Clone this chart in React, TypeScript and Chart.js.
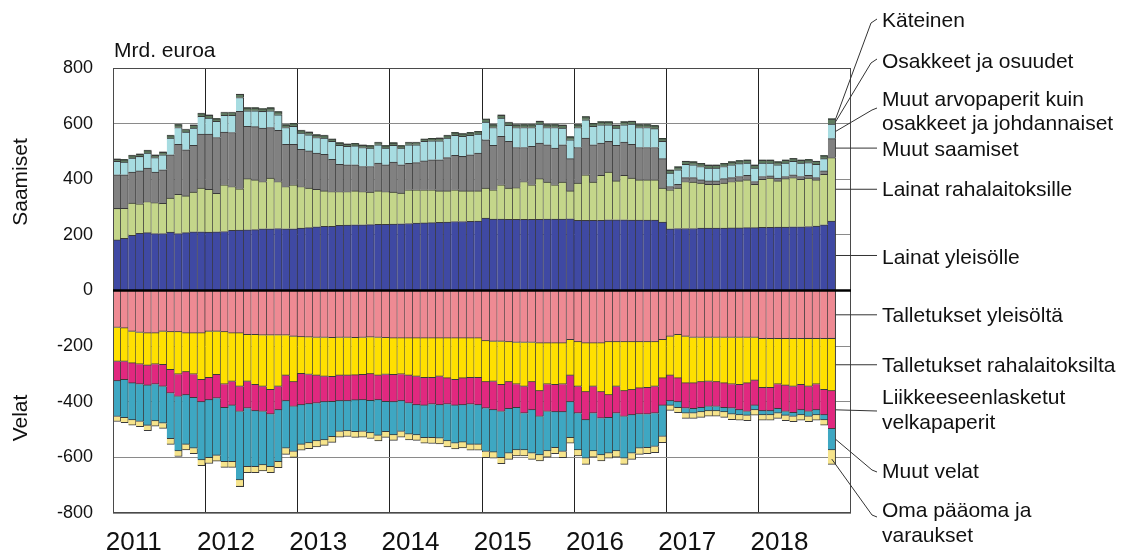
import React, { useEffect, useRef } from 'react';
import { Chart, registerables } from 'chart.js';

Chart.register(...registerables);

// ---------- categories ----------
const YEARS = ['2011', '2012', '2013', '2014', '2015', '2016', '2017', '2018'];
const MONTHS = ['01', '02', '03', '04', '05', '06', '07', '08', '09', '10', '11', '12'];
const CATEGORIES = YEARS.flatMap((y) => MONTHS.map((m) => `${y}-${m}`)); // 96 slots, data Jan 2011 – Oct 2018

// ---------- assets (Saamiset), bn EUR ----------
const lainatYleisolle = [
  182, 188, 198, 206, 208, 205, 205, 210, 205, 208, 211, 211,
  210, 211, 212, 216, 217, 218, 219, 222, 222, 223, 222, 222,
  224, 226, 229, 231, 231, 234, 235, 236, 236, 237, 238, 238,
  239, 240, 241, 242, 243, 244, 245, 246, 248, 248, 249, 250,
  260, 257, 257, 256, 256, 256, 256, 256, 257, 257, 257, 258,
  252, 252, 252, 252, 254, 254, 254, 253, 253, 253, 253, 246,
  222, 223, 223, 223, 224, 224, 224, 224, 225, 225, 226, 226,
  227, 227, 228, 228, 229, 229, 230, 232, 236, 250,
];
const lainatRahalaitoksille = [
  113, 107, 116, 106, 112, 111, 108, 122, 141, 132, 143, 157,
  154, 138, 168, 158, 149, 184, 179, 170, 182, 169, 152, 158,
  150, 142, 135, 127, 125, 122, 121, 122, 120, 117, 120, 118,
  115, 110, 121, 120, 119, 118, 113, 112, 114, 110, 109, 108,
  108, 105, 123, 112, 114, 136, 124, 146, 133, 123, 133, 100,
  134, 164, 138, 162, 172, 140, 160, 151, 145, 145, 145, 122,
  140, 145, 169, 167, 162, 158, 158, 162, 167, 169, 172, 156,
  173, 177, 166, 174, 177, 171, 174, 166, 182, 228,
];
const muutSaamiset = [
  121, 121, 112, 118, 120, 110, 121, 156, 180, 166, 168, 194,
  198, 201, 190, 194, 278, 188, 191, 192, 182, 184, 152, 146,
  134, 134, 130, 132, 116, 98, 96, 94, 90, 92, 100, 96,
  108, 102, 95, 98, 104, 108, 112, 120, 124, 124, 130, 136,
  174, 160, 174, 168, 144, 122, 138, 128, 134, 132, 134, 116,
  128, 132, 134, 116, 110, 128, 120, 122, 116, 116, 116, 106,
  12, 14, 14, 16, 12, 12, 12, 16, 14, 16, 16, 10,
  10, 8, 10, 8, 10, 10, 10, 8, 12, 68,
];
const muutArvopaperit = [
  48, 46, 50, 52, 54, 52, 54, 60, 60, 64, 62, 64,
  58, 58, 60, 62, 50, 56, 57, 60, 60, 56, 60, 64,
  58, 58, 56, 58, 64, 68, 66, 68, 68, 66, 66, 60,
  60, 60, 67, 64, 70, 68, 68, 70, 72, 72, 70, 68,
  64, 64, 66, 58, 72, 72, 68, 68, 62, 74, 60, 68,
  72, 66, 66, 66, 60, 62, 62, 72, 72, 72, 68, 62,
  48, 52, 48, 46, 48, 46, 46, 44, 46, 46, 44, 48,
  48, 46, 48, 48, 48, 48, 46, 48, 44, 52,
];
const osakkeetJaOsuudet = [
  8, 8, 9, 8, 9, 8, 9, 9, 10, 9, 10, 10,
  10, 9, 10, 10, 11, 10, 10, 9, 10, 10, 9, 10,
  9, 9, 9, 9, 8, 8, 8, 8, 8, 8, 8, 8,
  8, 8, 8, 8, 8, 8, 9, 9, 9, 9, 9, 9,
  10, 10, 10, 10, 9, 10, 10, 10, 10, 10, 10, 10,
  10, 10, 10, 10, 10, 10, 10, 10, 10, 10, 10, 10,
  10, 10, 10, 10, 10, 10, 10, 10, 10, 10, 10, 10,
  10, 10, 10, 10, 10, 10, 10, 10, 10, 18,
];
const kateinen = [
  1.5, 1.5, 1.5, 1.5, 1.5, 1.5, 1.5, 1.5, 1.5, 1.5, 1.5, 1.5,
  1.5, 1.5, 1.5, 1.5, 1.5, 1.5, 1.5, 1.5, 1.5, 1.5, 1.5, 1.5,
  1.5, 1.5, 1.5, 1.5, 1.5, 1.5, 1.5, 1.5, 1.5, 1.5, 1.5, 1.5,
  1.5, 1.5, 1.5, 1.5, 1.5, 1.5, 1.5, 1.5, 1.5, 1.5, 1.5, 1.5,
  1.5, 1.5, 1.5, 1.5, 1.5, 1.5, 1.5, 1.5, 1.5, 1.5, 1.5, 1.5,
  1.5, 1.5, 1.5, 1.5, 1.5, 1.5, 1.5, 1.5, 1.5, 1.5, 1.5, 1.5,
  1.5, 1.5, 1.5, 1.5, 1.5, 1.5, 1.5, 1.5, 1.5, 1.5, 1.5, 1.5,
  1.5, 1.5, 1.5, 1.5, 1.5, 1.5, 1.5, 1.5, 1.5, 2,
];

// ---------- liabilities (Velat), bn EUR ----------
const talletuksetYleisolta = [
  -133, -135, -147, -151, -153, -153, -147, -149, -149, -153, -153, -153,
  -147, -147, -149, -153, -153, -159, -159, -161, -161, -161, -161, -165,
  -167, -168, -169, -169, -170, -169, -169, -170, -169, -168, -169, -170,
  -171, -171, -171, -171, -171, -171, -171, -171, -171, -171, -171, -171,
  -181, -183, -183, -185, -187, -187, -187, -189, -189, -189, -189, -177,
  -185, -189, -189, -189, -185, -185, -185, -185, -185, -185, -185, -177,
  -165, -159, -165, -169, -169, -169, -169, -169, -169, -169, -169, -169,
  -173, -173, -173, -173, -173, -173, -173, -173, -173, -173,
];
const talletuksetRahalaitoksilta = [
  -122, -120, -114, -114, -116, -112, -120, -136, -152, -140, -148, -168,
  -166, -156, -188, -174, -192, -168, -180, -184, -196, -184, -144, -164,
  -132, -134, -136, -140, -140, -136, -136, -134, -134, -132, -136, -132,
  -132, -130, -134, -138, -142, -142, -138, -144, -150, -144, -142, -142,
  -148, -144, -156, -144, -150, -158, -142, -172, -148, -150, -148, -128,
  -160, -176, -156, -176, -190, -160, -176, -172, -166, -164, -160, -138,
  -140, -156, -168, -164, -160, -158, -160, -164, -168, -170, -164, -154,
  -176, -176, -164, -168, -172, -166, -172, -164, -184, -188,
];
const liikkeeseenlasketut = [
  -70, -66, -72, -72, -72, -72, -78, -84, -80, -82, -84, -80,
  -80, -84, -84, -86, -90, -96, -94, -90, -88, -84, -92, -88,
  -112, -106, -100, -92, -90, -92, -92, -90, -90, -96, -88, -98,
  -98, -96, -100, -102, -100, -96, -102, -94, -92, -96, -96, -98,
  -94, -102, -96, -96, -84, -96, -100, -92, -98, -98, -100, -96,
  -96, -100, -96, -94, -82, -96, -92, -90, -94, -96, -96, -98,
  -92, -86, -90, -92, -92, -90, -88, -88, -86, -90, -102, -90,
  -84, -84, -88, -94, -94, -90, -90, -92, -90, -136,
];
const muutVelat = [
  -128, -136, -132, -134, -144, -132, -132, -164, -196, -178, -182, -208,
  -208, -206, -194, -202, -246, -210, -200, -192, -188, -186, -170, -162,
  -142, -140, -136, -136, -126, -110, -108, -114, -114, -116, -128, -108,
  -118, -110, -112, -108, -116, -120, -120, -132, -136, -134, -144, -142,
  -156, -152, -166, -160, -152, -132, -156, -138, -142, -128, -142, -128,
  -132, -138, -136, -132, -128, -136, -150, -138, -122, -120, -120, -112,
  -16, -20, -18, -16, -16, -16, -16, -16, -22, -18, -14, -16,
  -14, -14, -16, -14, -14, -18, -18, -18, -18, -76,
];
const omaPaaoma = [
  -18, -18, -19, -19, -19, -19, -19, -20, -20, -20, -20, -21,
  -21, -21, -21, -21, -24, -22, -22, -22, -22, -22, -22, -21,
  -21, -21, -21, -20, -20, -20, -20, -20, -20, -20, -20, -20,
  -20, -20, -20, -20, -20, -21, -21, -21, -21, -21, -21, -21,
  -22, -22, -22, -22, -22, -22, -22, -22, -22, -22, -22, -20,
  -22, -22, -22, -22, -18, -22, -22, -22, -22, -22, -22, -22,
  -18, -18, -19, -19, -19, -19, -19, -19, -19, -19, -19, -19,
  -19, -19, -19, -19, -19, -19, -19, -19, -19, -52,
];

const Y_TICKS_MIN = -800;
const Y_TICKS_MAX = 800;
const Y_STEP = 200;

const FONT = '"Liberation Sans", Arial, sans-serif';
const BORDER = '#3a3a3a';

const SERIES = [
  { label: 'Lainat yleisölle', data: lainatYleisolle, color: '#3F49A3' },
  { label: 'Lainat rahalaitoksille', data: lainatRahalaitoksille, color: '#C4D68A' },
  { label: 'Muut saamiset', data: muutSaamiset, color: '#818181' },
  { label: 'Muut arvopaperit kuin osakkeet ja johdannaiset', data: muutArvopaperit, color: '#A7DCE1' },
  { label: 'Osakkeet ja osuudet', data: osakkeetJaOsuudet, color: '#5E7B60' },
  { label: 'Käteinen', data: kateinen, color: '#22402A' },
  { label: 'Talletukset yleisöltä', data: talletuksetYleisolta, color: '#EE8A93' },
  { label: 'Talletukset rahalaitoksilta', data: talletuksetRahalaitoksilta, color: '#FFE000' },
  { label: 'Liikkeeseenlasketut velkapaperit', data: liikkeeseenlasketut, color: '#E1287F' },
  { label: 'Muut velat', data: muutVelat, color: '#3EA7C2' },
  { label: 'Oma pääoma ja varaukset', data: omaPaaoma, color: '#F6E48C' },
];

// leader-line annotation layout (label positions in px)
type Leader = {
  ds: number;
  lines: string[];
  ty: number[];
  bend?: [number, number];
  end?: [number, number];
  fromCenter?: boolean;
};
const LEADERS: Leader[] = [
  { ds: 5, lines: ['Käteinen'], ty: [21], bend: [871, 23], end: [877, 19] },
  { ds: 4, lines: ['Osakkeet ja osuudet'], ty: [62], bend: [871, 63], end: [877, 59] },
  { ds: 3, lines: ['Muut arvopaperit kuin', 'osakkeet ja johdannaiset'], ty: [100, 124], bend: [872, 110], end: [877, 108] },
  { ds: 2, lines: ['Muut saamiset'], ty: [150] },
  { ds: 1, lines: ['Lainat rahalaitoksille'], ty: [190] },
  { ds: 0, lines: ['Lainat yleisölle'], ty: [258] },
  { ds: 6, lines: ['Talletukset yleisöltä'], ty: [316] },
  { ds: 7, lines: ['Talletukset rahalaitoksilta'], ty: [366] },
  { ds: 8, lines: ['Liikkeeseenlasketut', 'velkapaperit'], ty: [398, 423], end: [877, 411] },
  { ds: 9, lines: ['Muut velat'], ty: [472], bend: [872, 470], end: [877, 472] },
  { ds: 10, lines: ['Oma pääoma ja', 'varaukset'], ty: [511, 536], bend: [872, 515], end: [877, 517], fromCenter: true },
];

const annotatePlugin = {
  id: 'annotate',
  afterDatasetsDraw(chart: any) {
    const { ctx, chartArea: a, scales } = chart;
    const y0 = scales.y.getPixelForValue(0);
    ctx.save();
    ctx.strokeStyle = '#4a4a4a';
    ctx.lineWidth = 1;
    ctx.strokeRect(a.left + 0.5, a.top + 0.5, a.right - a.left - 1, a.bottom - a.top - 1);
    ctx.strokeStyle = '#000';
    ctx.lineWidth = 2.5;
    ctx.beginPath();
    ctx.moveTo(a.left, y0);
    ctx.lineTo(a.right, y0);
    ctx.stroke();
    ctx.restore();
  },
  afterDraw(chart: any) {
    const { ctx } = chart;
    ctx.save();
    ctx.fillStyle = '#111';
    ctx.font = `21px ${FONT}`;
    ctx.textBaseline = 'middle';
    ctx.textAlign = 'left';
    ctx.fillText('Mrd. euroa', 114, 51);

    // rotated axis titles
    const rot = (text: string, x: number, y: number) => {
      ctx.save();
      ctx.translate(x, y);
      ctx.rotate(-Math.PI / 2);
      ctx.textAlign = 'center';
      ctx.fillText(text, 0, 0);
      ctx.restore();
    };
    rot('Saamiset', 21, 182);
    rot('Velat', 21, 418);

    // leaders
    ctx.strokeStyle = '#333';
    ctx.lineWidth = 1;
    LEADERS.forEach((l) => {
      const meta = chart.getDatasetMeta(l.ds);
      const el = meta.data[meta.data.length - 1];
      if (!el) return;
      const p = el.getProps(['x', 'y', 'base', 'width'], true);
      const mid = (p.y + p.base) / 2;
      const sx = l.fromCenter ? p.x : p.x + p.width / 2;
      const sy = l.fromCenter ? mid + 2 : mid;
      ctx.beginPath();
      ctx.moveTo(sx, sy);
      if (l.bend) ctx.lineTo(l.bend[0], l.bend[1]);
      if (l.end) ctx.lineTo(l.end[0], l.end[1]);
      else ctx.lineTo(877, sy);
      ctx.stroke();
      l.lines.forEach((t, i) => ctx.fillText(t, 882, l.ty[i]));
    });
    ctx.restore();
  },
};

export default function App() {
  const ref = useRef<HTMLCanvasElement>(null);
  useEffect(() => {
    if (!ref.current) return;
    Chart.defaults.font.family = FONT;
    const chart = new Chart(ref.current, {
      type: 'bar',
      data: {
        labels: CATEGORIES,
        datasets: SERIES.map((s) => ({
          label: s.label,
          data: s.data,
          backgroundColor: s.color,
          borderColor: BORDER,
          borderWidth: { top: 1, bottom: 1, left: 0, right: 1 },
          barPercentage: 1,
          categoryPercentage: 1,
          stack: 'all',
        })),
      },
      options: {
        responsive: false,
        animation: false,
        devicePixelRatio: 1,
        layout: { padding: { top: 68, right: 270, bottom: 0, left: 0 } },
        plugins: { legend: { display: false }, tooltip: { enabled: false } },
        scales: {
          x: {
            stacked: true,
            offset: true,
            border: { display: false },
            grid: {
              offset: true,
              drawTicks: false,
              lineWidth: 1,
              color: (c: any) => (c.index !== undefined && c.index % 12 === 0 ? '#222' : 'rgba(0,0,0,0)'),
            },
            ticks: {
              autoSkip: false,
              maxRotation: 0,
              minRotation: 0,
              padding: 14,
              labelOffset: 1.5,
              color: '#111',
              font: { size: 26 },
              callback: (_v: any, i: number) => (i % 12 === 2 ? YEARS[Math.floor(i / 12)] : ''),
            },
            afterFit: (s: any) => {
              s.height = 40;
            },
          },
          y: {
            stacked: true,
            min: Y_TICKS_MIN,
            max: Y_TICKS_MAX,
            border: { display: false },
            grid: {
              drawTicks: false,
              lineWidth: 1,
              color: '#8a8a8a',
            },
            ticks: {
              stepSize: Y_STEP,
              padding: 20,
              color: '#111',
              font: { size: 18 },
            },
            afterFit: (s: any) => {
              s.width = 113;
            },
          },
        },
      },
      plugins: [annotatePlugin],
    } as any);
    return () => chart.destroy();
  }, []);
  return (
    <div style={{ position: 'absolute', left: 0, top: 0, width: 1121, height: 553, background: '#fff' }}>
      <canvas ref={ref} width={1121} height={553} style={{ display: 'block', width: 1121, height: 553 }} />
    </div>
  );
}
